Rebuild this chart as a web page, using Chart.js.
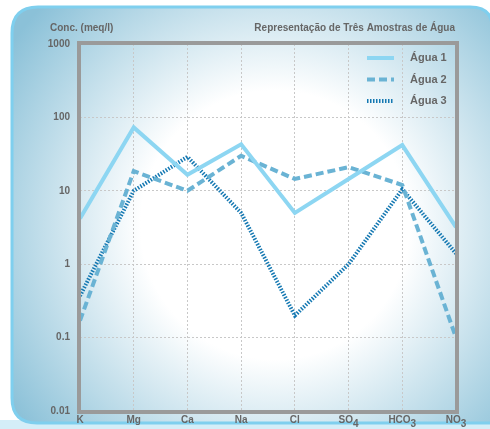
<!DOCTYPE html>
<html>
<head>
<meta charset="utf-8">
<script src="https://cdn.jsdelivr.net/npm/chart.js@4"></script>
<style>
  body { margin:0; background:#fff; }
  #wrap { width:490px; height:429px; position:relative; }
</style>
</head>
<body>
<div id="wrap"><canvas id="ionChart"></canvas></div>
<script>
const ions = ['K','Mg','Ca','Na','Cl','SO₄','HCO₃','NO₃'];
const agua1 = [4.2, 73, 16.5, 43, 5, 14.5, 42, 3.2];
const agua2 = [0.17, 18.5, 10, 30, 14.5, 21, 12, 0.1];
const agua3 = [0.37, 10, 29, 5, 0.2, 1, 10.5, 1.4];
const yTicks = [0.01, 0.1, 1, 10, 100, 1000];

const seriesNames = ['Água 1','Água 2','Água 3'];
const seriesColors = ['#8dd6f2','#6ab3d4','#1478b2'];
const seriesDash = [[], [8,4], [1.5,1.5]];

const subDigits = '₀₁₂₃₄₅₆₇₈₉';
const tickFont = 'bold 10px "Liberation Sans", Arial, sans-serif';

// panel, texts, frame, legend and x labels with subscripts
const decor = {
  id:'decor',
  beforeDraw(chart){
    const c = chart.ctx;
    c.save();
    c.fillStyle = '#d4eef8';
    c.fillRect(0, 420, 490, 9);
    c.beginPath();
    c.moveTo(470, 7);
    c.lineTo(38, 7);
    c.quadraticCurveTo(12, 7, 12, 33);
    c.lineTo(12, 398);
    c.quadraticCurveTo(12, 423, 37, 423);
    c.lineTo(492, 423);
    c.lineTo(492, 27);
    c.quadraticCurveTo(492, 7, 470, 7);
    c.closePath();
    const g = c.createRadialGradient(275, 225, 0, 275, 225, 320);
    g.addColorStop(0, '#ffffff');
    g.addColorStop(0.42, '#ffffff');
    g.addColorStop(1, '#8bc1d8');
    c.fillStyle = g;
    c.fill();
    c.lineWidth = 3;
    c.strokeStyle = '#7fcfee';
    c.stroke();
    c.restore();
  },
  afterDatasetsDraw(chart){
    const c = chart.ctx;
    const a = chart.chartArea;
    c.save();
    c.strokeStyle = '#9a9a9a';
    c.lineWidth = 4;
    c.strokeRect(a.left - 1, a.top - 1, a.right - a.left + 2, a.bottom - a.top + 2);

    c.fillStyle = '#666';
    c.font = 'bold 10px "Liberation Sans", Arial, sans-serif';
    c.textBaseline = 'middle';
    c.textAlign = 'left';
    c.fillText('Conc. (meq/l)', 50, 28);
    c.textAlign = 'right';
    c.fillText('Representação de Três Amostras de Água', 455, 28);

    // x labels
    const xs = chart.scales.x;
    c.font = tickFont;
    c.textAlign = 'left';
    ions.forEach((lab, i) => {
      let base = lab, sub = '';
      while (base.length && subDigits.includes(base[base.length - 1])) {
        sub = String(subDigits.indexOf(base[base.length - 1])) + sub;
        base = base.slice(0, -1);
      }
      const wb = c.measureText(base).width;
      const ws = sub ? c.measureText(sub).width : 0;
      const x0 = xs.getPixelForValue(i) - (wb + ws) / 2;
      c.fillText(base, x0, 420);
      if (sub) c.fillText(sub, x0 + wb, 424);
    });

    // legend
    c.font = 'bold 11px "Liberation Sans", Arial, sans-serif';
    for (let i = 0; i < seriesNames.length; i++) {
      const y = 58 + i * 21.5;
      c.beginPath();
      c.strokeStyle = seriesColors[i];
      c.lineWidth = 4;
      c.setLineDash(seriesDash[i]);
      c.moveTo(367, y);
      c.lineTo(394, y);
      c.stroke();
      c.setLineDash([]);
      c.fillStyle = '#666';
      c.fillText(seriesNames[i], 410, y);
    }
    c.restore();
  }
};

new Chart(document.getElementById('ionChart'), {
  type:'line',
  data:{
    labels: ions,
    datasets: seriesNames.map((n, i) => ({
      label: n,
      data: [agua1, agua2, agua3][i],
      borderColor: seriesColors[i],
      borderWidth: 4,
      borderDash: seriesDash[i],
      pointRadius: 0,
      tension: 0,
      fill: false
    }))
  },
  options:{
    responsive:true,
    maintainAspectRatio:false,
    animation:false,
    layout:{ padding:{ top:44, right:34, left:0, bottom:0 } },
    plugins:{ legend:{ display:false }, tooltip:{ enabled:false } },
    scales:{
      x:{
        offset:false,
        grid:{ color:'#c8c8c8', lineWidth:1, drawTicks:false },
        border:{ display:false, dash:[2,2] },
        ticks:{ display:false, autoSkip:false },
        afterFit(s){ s.height = 18; }
      },
      y:{
        type:'logarithmic',
        min:0.01,
        max:1000,
        afterBuildTicks(s){ s.ticks = yTicks.map(v => ({ value:v })); },
        grid:{ color:'#c8c8c8', lineWidth:1, drawTicks:false },
        border:{ display:false, dash:[2,2] },
        ticks:{ color:'#666', padding:10,
                callback:(v) => String(v),
                font:{ family:'"Liberation Sans", Arial, sans-serif', size:10, weight:'bold' } },
        afterFit(s){ s.width = 80; }
      }
    }
  },
  plugins:[decor]
});
</script>
</body>
</html>
